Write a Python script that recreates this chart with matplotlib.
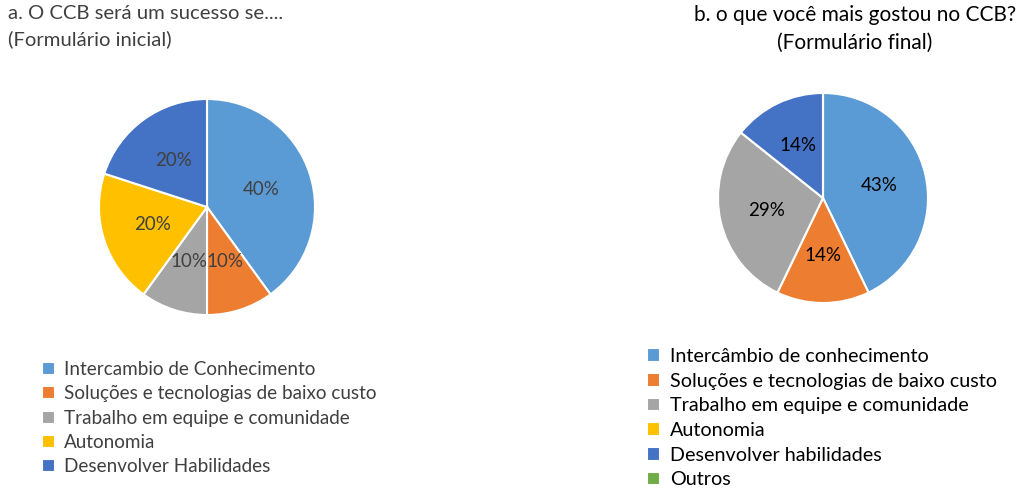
import matplotlib
matplotlib.use("Agg")
import matplotlib.pyplot as plt

plt.rcParams['font.family'] = ['Lato', 'DejaVu Sans']

# Data
labels_a = ["Intercambio de Conhecimento", "Soluções e tecnologias de baixo custo",
            "Trabalho em equipe e comunidade", "Autonomia", "Desenvolver Habilidades"]
values_a = [4, 1, 1, 2, 2]

labels_b = ["Intercâmbio de conhecimento", "Soluções e tecnologias de baixo custo",
            "Trabalho em equipe e comunidade", "Autonomia", "Desenvolver habilidades", "Outros"]
values_b = [3, 1, 2, 0, 1, 0]

title_a = "a. O CCB será um sucesso se....\n(Formulário inicial)"
title_b = "b. o que você mais gostou no CCB?\n(Formulário final)"

colors = ["#5B9BD5", "#ED7D31", "#A5A5A5", "#FFC000", "#4472C4", "#70AD47"]

W, H = 1030, 488
fig = plt.figure(figsize=(W / 100, H / 100), dpi=100)
fig.patch.set_facecolor("white")


def pie_axes(cx, cy, r):
    return fig.add_axes([(cx - r) / W, (H - cy - r) / H, 2 * r / W, 2 * r / H])


def pct_fmt(p):
    return f"{p:.0f}%" if p > 0.5 else ""


# Pie a
ax1 = pie_axes(207, 207, 108)
w1, t1, a1 = ax1.pie(values_a, colors=colors[:len(values_a)], startangle=90, counterclock=False,
                     autopct=pct_fmt, pctdistance=0.53,
                     wedgeprops=dict(edgecolor="white", linewidth=1.5),
                     textprops=dict(color="#404040", fontsize=13.5))
ax1.set_xlim(-1, 1)
ax1.set_ylim(-1, 1)

# Pie b
ax2 = pie_axes(823, 198, 105)
w2, t2, a2 = ax2.pie(values_b, colors=colors[:len(values_b)], startangle=90, counterclock=False,
                     autopct=pct_fmt, pctdistance=0.55,
                     wedgeprops=dict(edgecolor="white", linewidth=1.5),
                     textprops=dict(color="black", fontsize=13.5))
ax2.set_xlim(-1, 1)
ax2.set_ylim(-1, 1)

# Titles
fig.text(8 / W, 1 - 5 / H, title_a, ha="left", va="top", fontsize=14.6, color="#404040",
         linespacing=1.58)
fig.text(855 / W, 1 - 5 / H, title_b, ha="center", va="top", fontsize=15, color="black",
         linespacing=1.52)

# Legends
leg_kw = dict(frameon=False, loc="upper left", handlelength=0.68,
              handleheight=0.68, handletextpad=0.5, borderpad=0,
              borderaxespad=0)
leg1 = fig.legend(w1, labels_a, bbox_to_anchor=(42 / W, 1 - 361 / H), fontsize=13.6,
                  labelspacing=0.39, **leg_kw)
for t in leg1.get_texts():
    t.set_color("#404040")
leg2 = fig.legend(w2, labels_b, bbox_to_anchor=(647 / W, 1 - 348 / H), fontsize=14.2,
                  labelspacing=0.39, **leg_kw)
for t in leg2.get_texts():
    t.set_color("black")

fig.savefig("out.png", dpi=100, facecolor="white")
